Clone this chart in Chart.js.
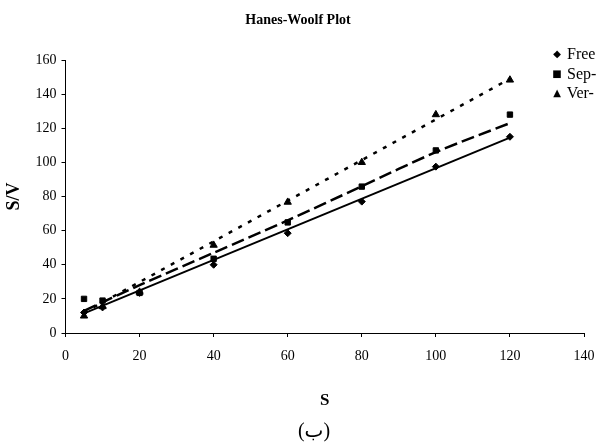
<!DOCTYPE html>
<html>
<head>
<meta charset="utf-8">
<script src="https://cdn.jsdelivr.net/npm/chart.js@4/dist/chart.umd.min.js"></script>
<style>
  html, body { margin: 0; padding: 0; background: #fff; overflow: hidden; }
  #wrap { position: relative; width: 596px; height: 443px; overflow: hidden; }
  #legend { position: absolute; left: 551px; top: 44px; font-family: "Liberation Serif", serif; font-size: 16px; color: #000; white-space: nowrap; }
  #legend .row { height: 19.5px; line-height: 19px; }
  #legend .mk { display: inline-block; width: 12px; font-size: 10px; text-align: center; vertical-align: 2px; font-family: "DejaVu Sans", sans-serif; }
  #sub { position: absolute; left: 274px; width: 80px; top: 418px; text-align: center; font-family: "Liberation Serif", "DejaVu Sans", serif; font-size: 20px; line-height: 24px; color: #000; }
</style>
</head>
<body>
<div id="wrap">
  <canvas id="c" width="596" height="443"></canvas>
  <div id="legend"></div>
  <div id="sub">(ب)</div>
</div>
<script>
// ---- data ----
const sConc = [5, 10, 20, 40, 60, 80, 100, 120];
const freeSV = [12, 15, 23.5, 40, 58.5, 77, 97.5, 115];
const sepSV  = [20, 19, 23.5, 43.5, 64.8, 85.8, 107, 128];
const verSV  = [10, 15.5, 24, 51.5, 76.7, 100, 128, 148.3];

// trend lines
const freeFitX = [5, 120];
const freeFit  = [11.5, 114.5];
const sepFitX  = [5, 20, 40, 60, 80, 100, 120];
const sepFit   = [13, 28, 47, 66, 86, 106, 123];
const verFitX  = [5, 120];
const verFit   = [12, 149];

const seriesNames = ['Free', 'Sep-', 'Ver-'];
const xTicks = [0, 20, 40, 60, 80, 100, 120, 140];
const yTicks = [0, 20, 40, 60, 80, 100, 120, 140, 160];

const pts = (xs, ys) => xs.map((x, i) => ({x: x, y: ys[i]}));
const serif = "'Liberation Serif', 'Times New Roman', serif";

const datasets = [
  { label: seriesNames[0], data: pts(sConc, freeSV), pointStyle: 'rectRot', pointRadius: 3.5,
    backgroundColor: '#000', borderColor: '#000', showLine: false },
  { label: seriesNames[1], data: pts(sConc, sepSV), pointStyle: 'rect', pointRadius: 3.8,
    backgroundColor: '#000', borderColor: '#000', showLine: false },
  { label: seriesNames[2], data: pts(sConc, verSV), pointStyle: 'triangle', pointRadius: 4.2,
    backgroundColor: '#000', borderColor: '#000', showLine: false },
  { label: 'Free fit', data: pts(freeFitX, freeFit), showLine: true, pointRadius: 0,
    borderColor: '#000', borderWidth: 2, fill: false },
  { label: 'Sep fit', data: pts(sepFitX, sepFit), showLine: true, pointRadius: 0, tension: 0.3,
    borderColor: '#000', borderWidth: 2.5, borderDash: [13, 5], fill: false },
  { label: 'Ver fit', data: pts(verFitX, verFit), showLine: true, pointRadius: 0,
    borderColor: '#000', borderWidth: 2.5, borderDash: [4, 7], fill: false }
];

new Chart(document.getElementById('c'), {
  type: 'scatter',
  data: { datasets: datasets },
  options: {
    responsive: false,
    animation: false,
    events: [],
    layout: { padding: { left: 0, right: 0, top: 0, bottom: 0 } },
    plugins: {
      legend: { display: false },
      tooltip: { enabled: false },
      title: {
        display: true, text: 'Hanes-Woolf Plot', color: '#000',
        font: { family: serif, size: 14, weight: 'bold' },
        padding: { top: 11.6, bottom: 31.6 }
      }
    },
    scales: {
      x: {
        type: 'linear', min: 0, max: 140,
        afterBuildTicks: s => { s.ticks = xTicks.map(v => ({value: v})); },
        afterFit: s => { s.height = 110; s.paddingLeft = 0; s.paddingRight = 12; },
        ticks: { color: '#000', font: { family: serif, size: 14 }, padding: 11, maxRotation: 0 },
        grid: { display: true, drawOnChartArea: false, drawTicks: true, tickLength: 4, color: '#000' },
        border: { display: true, color: '#000', width: 1 },
        title: { display: true, text: 'S', color: '#000', font: { family: serif, size: 17, weight: 'bold' },
                 padding: { top: 0, bottom: 31.8 } }
      },
      y: {
        type: 'linear', min: 0, max: 160,
        afterBuildTicks: s => { s.ticks = yTicks.map(v => ({value: v})); },
        afterFit: s => { s.width = 65.5; s.paddingTop = 0; s.paddingBottom = 0; },
        ticks: { color: '#000', font: { family: serif, size: 14 }, padding: 5 },
        grid: { display: true, drawOnChartArea: false, drawTicks: true, tickLength: 4, color: '#000' },
        border: { display: true, color: '#000', width: 1 },
        title: { display: true, text: 'S/V', color: '#000', font: { family: serif, size: 18, weight: 'bold' },
                 padding: { top: 4, bottom: 0 } }
      }
    }
  }
});

// legend (real text)
const marks = ['◆', '■', '▲'];
const lg = document.getElementById('legend');
seriesNames.forEach((n, i) => {
  const r = document.createElement('div');
  r.className = 'row';
  const m = document.createElement('span');
  m.className = 'mk';
  m.textContent = marks[i];
  const t = document.createElement('span');
  t.textContent = ' ' + n;
  r.appendChild(m); r.appendChild(t);
  lg.appendChild(r);
});
</script>
</body>
</html>
